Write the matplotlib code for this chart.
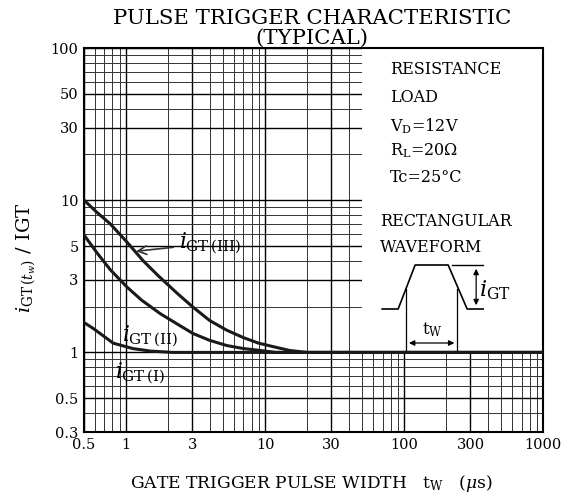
import numpy as np
import matplotlib.pyplot as plt
from matplotlib.patches import Rectangle

plt.rcParams['font.family'] = ['DejaVu Serif']
plt.rcParams['mathtext.fontset'] = 'dejavuserif'

# curves (tw in us, ratio iGT(tw)/IGT)
tw_III = [0.5, 0.62, 0.77, 1.0, 1.33, 1.7, 2.33, 3.0, 4.0, 5.3, 7.0, 9.0, 12.0, 15.0, 20.0, 1000.0]
ratio_III = [10.0, 8.3, 7.0, 5.4, 4.0, 3.2, 2.45, 2.0, 1.62, 1.4, 1.25, 1.15, 1.08, 1.03, 1.0, 1.0]

tw_II = [0.5, 0.62, 0.77, 1.02, 1.3, 1.76, 2.3, 3.04, 4.0, 5.3, 7.0, 9.2, 12.0, 1000.0]
ratio_II = [5.9, 4.5, 3.5, 2.68, 2.2, 1.8, 1.55, 1.33, 1.2, 1.11, 1.06, 1.03, 1.0, 1.0]

tw_I = [0.5, 0.58, 0.66, 0.81, 1.12, 1.5, 2.2, 1000.0]
ratio_I = [1.57, 1.44, 1.32, 1.15, 1.06, 1.02, 1.0, 1.0]

xticks = [0.5, 1, 3, 10, 30, 100, 300, 1000]
xticklabels = ['0.5', '1', '3', '10', '30', '100', '300', '1000']
yticks = [0.3, 0.5, 1, 3, 5, 10, 30, 50, 100]
yticklabels = ['0.3', '0.5', '1', '3', '5', '10', '30', '50', '100']

fig = plt.figure(figsize=(5.76, 5.0), dpi=100)
ax = fig.add_axes([0.146, 0.136, 0.797, 0.768])
ax.set_xscale('log'); ax.set_yscale('log')
ax.set_xlim(0.5, 1000); ax.set_ylim(0.3, 100)

# datasheet grid
ax.set_axisbelow(True)
ax.grid(True, which='major', color='black', lw=1.0)
ax.grid(True, which='minor', color='#333333', lw=0.7)
ax.set_xticks(xticks); ax.set_xticklabels(xticklabels)
ax.set_yticks(yticks); ax.set_yticklabels(yticklabels)
ax.tick_params(which='both', length=0, labelsize=10.5, pad=4)
for s in ax.spines.values():
    s.set_linewidth(1.5)

# white panel for the conditions text
ax.add_patch(Rectangle((50, 1), 950, 99, facecolor='white', edgecolor='none', zorder=1))

ax.plot(tw_III, ratio_III, color='#1a1a1a', lw=2.2, zorder=3)
ax.plot(tw_II, ratio_II, color='#1a1a1a', lw=2.2, zorder=3)
ax.plot(tw_I, ratio_I, color='#1a1a1a', lw=2.2, zorder=3)

ax.annotate(r'$i_{\mathrm{GT}\,(\mathrm{III})}$', xy=(1.13, 4.6), xytext=(2.4, 5.2),
            fontsize=15.5, va='center', ha='left', zorder=4,
            arrowprops=dict(arrowstyle='->', color='#333333', lw=1.2))
ax.text(0.93, 1.27, r'$i_{\mathrm{GT}\,(\mathrm{II})}$', fontsize=15.5, va='center', ha='left', zorder=4)
ax.text(0.84, 0.73, r'$i_{\mathrm{GT}\,(\mathrm{I})}$', fontsize=15.5, va='center', ha='left', zorder=4)

# conditions text
def px(x, y):
    return ((x - 84) / 459.0, 1 - (y - 48) / 384.0)

cond = ['RESISTANCE', 'LOAD', r'V$_{\mathrm{D}}$=12V', r'R$_{\mathrm{L}}$=20$\Omega$', 'Tc=25°C']
cond_y = [70, 98, 126, 151, 177]
for t, yy in zip(cond, cond_y):
    ax.text(*px(390, yy), t, transform=ax.transAxes, fontsize=11.5, va='center', ha='left', zorder=4)
ax.text(*px(380, 222), 'RECTANGULAR', transform=ax.transAxes, fontsize=11.5, va='center', ha='left', zorder=4)
ax.text(*px(380, 248), 'WAVEFORM', transform=ax.transAxes, fontsize=11.5, va='center', ha='left', zorder=4)

# waveform sketch
wx = [382, 398, 415, 448, 467, 483]
wy = [309, 309, 265, 265, 309, 309]
pts = [px(a, b) for a, b in zip(wx, wy)]
ax.plot([p[0] for p in pts], [p[1] for p in pts], color='black', lw=1.2, transform=ax.transAxes, zorder=4)
p1, p2 = px(452, 265), px(483, 265)
ax.plot([p1[0], p2[0]], [p1[1], p2[1]], color='black', lw=1.0, transform=ax.transAxes, zorder=4)
for xx in [406, 457]:
    a, b = px(xx, 289), px(xx, 350)
    ax.plot([a[0], b[0]], [a[1], b[1]], color='black', lw=0.9, transform=ax.transAxes, zorder=4)
ax.annotate('', xy=px(476, 266), xytext=px(476, 308), xycoords='axes fraction',
            arrowprops=dict(arrowstyle='<|-|>', color='black', lw=0.9, mutation_scale=8), zorder=4)
ax.annotate('', xy=px(406, 343), xytext=px(457, 343), xycoords='axes fraction',
            arrowprops=dict(arrowstyle='<|-|>', color='black', lw=0.9, mutation_scale=8), zorder=4)
ax.text(*px(479, 290), r'$i_{\mathrm{GT}}$', transform=ax.transAxes, fontsize=16, va='center', ha='left', zorder=4)
ax.text(*px(432, 330), r'$\mathrm{t_W}$', transform=ax.transAxes, fontsize=12, va='center', ha='center', zorder=4)

fig.text(0.542, 0.964, 'PULSE TRIGGER CHARACTERISTIC', fontsize=15.3, ha='center', va='center')
fig.text(0.542, 0.924, '(TYPICAL)', fontsize=15.3, ha='center', va='center')
fig.text(0.226, 0.034, r'GATE TRIGGER PULSE WIDTH   $\mathrm{t_W}$   ($\mu$s)', fontsize=12.3, ha='left', va='center')
fig.text(0.045, 0.484, r'$i_{\mathrm{GT}\,(t_w)}$ / IGT', fontsize=14, rotation=90, ha='center', va='center')

fig.savefig('out.png', dpi=100)
